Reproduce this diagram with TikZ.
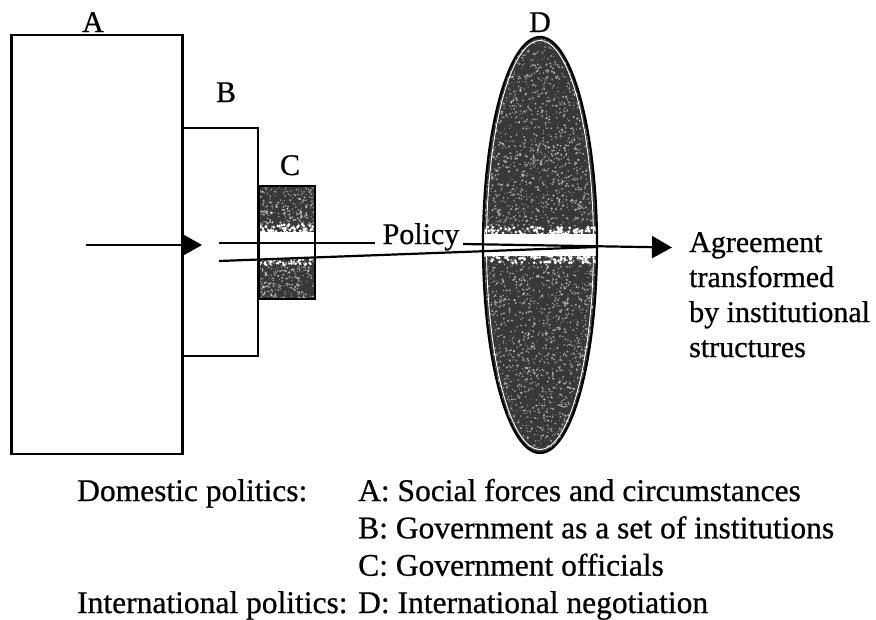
\documentclass[tikz,border=0pt]{standalone}
\usepackage{fontspec}
\setmainfont{Liberation Serif}[FakeBold=0.7]
\usetikzlibrary{arrows.meta}
\begin{document}
\begin{tikzpicture}[x=1pt,y=-1pt,
  frameline/.style={draw=black, line width=2.2pt},
  box/.style={frameline, fill=white, inner sep=0pt, outer sep=0pt},
  letter/.style={font=\fontsize{30}{34}\selectfont, anchor=base, inner sep=0pt},
  legend/.style={font=\fontsize{31.5}{37}\selectfont, anchor=base west, inner sep=0pt},
  flow/.style={line width=2.2pt},
  tip/.style={-{Triangle[length=20pt,width=22pt]}},
  speck/.style={fill=white, opacity=.5},
  ground/.style={fill=black!78}]
\useasboundingbox (0,0) rectangle (876,619);

% domestic level: society, government, officials
\node[box, minimum width=171pt, minimum height=419pt] (A) at (97,244.5) {};
\node[box, minimum width=75.5pt, minimum height=228pt] (B) at (220.25,242) {};
\node[ground, inner sep=0pt, outer sep=0pt, minimum width=56pt, minimum height=113pt] (C) at (287,242.5) {};

\pgfmathsetseed{4711}
\begin{scope}
  \clip (C.south west) rectangle (C.north east);
  \foreach \k in {1,...,750}{
    \pgfmathsetmacro\sx{259+56*rnd}
    \pgfmathsetmacro\sy{186+113*rnd}
    \pgfmathsetmacro\sr{0.35+0.9*rnd}
    \fill[speck] (\sx,\sy) circle[radius=\sr];
  }
  \fill[white] (259,232) rectangle (315,259);
  \foreach \k in {1,...,50}{
    \pgfmathsetmacro\sx{259+56*rnd}
    \pgfmathsetmacro\sy{224+9*rnd}
    \fill[white] (\sx,\sy) circle[radius=1.5];
    \pgfmathsetmacro\sx{259+56*rnd}
    \pgfmathsetmacro\sy{258+7*rnd}
    \fill[white] (\sx,\sy) circle[radius=1.3];
  }
\end{scope}
\draw[frameline] (C.south west) rectangle (C.north east);

% international level: negotiation
\coordinate (D) at (540,245);
\begin{scope}
  \clip (D) ellipse [x radius=57, y radius=208];
  \fill[ground] (D) ellipse [x radius=57, y radius=208];
  \foreach \k in {1,...,3800}{
    \pgfmathsetmacro\sx{483+114*rnd}
    \pgfmathsetmacro\sy{37+416*rnd}
    \pgfmathsetmacro\sr{0.35+0.9*rnd}
    \fill[speck] (\sx,\sy) circle[radius=\sr];
  }
  \fill[white] (483,234) rectangle (597,256);
  \foreach \k in {1,...,90}{
    \pgfmathsetmacro\sx{483+114*rnd}
    \pgfmathsetmacro\sy{227+8*rnd}
    \fill[white] (\sx,\sy) circle[radius=1.5];
    \pgfmathsetmacro\sx{483+114*rnd}
    \pgfmathsetmacro\sy{255+8*rnd}
    \fill[white] (\sx,\sy) circle[radius=1.5];
  }
  \draw[white, line width=0.9pt] (D) ellipse [x radius=53.5, y radius=204.5];
\end{scope}
\draw[frameline] (D) ellipse [x radius=57, y radius=208];

% labels of the four levels
\node[letter] (labA) at (93,32) {A};
\node[letter] (labB) at (226,102) {B};
\node[letter] (labC) at (290,175) {C};
\node[letter] (labD) at (540,32) {D};

% flow of policy
\coordinate (in0) at (86,245);
\coordinate (in1) at (202,245);
\draw[flow, tip] (in0) -- (in1);

\node[letter] (policy) at (421,244) {Policy};
\coordinate (u0) at (219,243);
\coordinate (u1) at (375,243);
\coordinate (u2) at (463,244);
\coordinate (out) at (672,247.5);
\coordinate (l0) at (219,261);
\coordinate (l1) at (597,247);
\draw[flow] (u0) -- (u1);
\draw[flow] (l0) -- (l1);
\draw[flow, tip] (u2) -- (out);

% the last line's baseline carries the node
\node[font=\fontsize{30}{35}\selectfont, align=left, anchor=base west, inner sep=0pt] (result) at (689,357)
  {Agreement\\transformed\\by institutional\\structures};

% legend
\node[legend] (dom) at (77,501) {Domestic politics:};
\node[legend] (int) at (77,613) {International politics:};
\node[legend] (keyA) at (358,501) {A: Social forces and circumstances};
\node[legend] (keyB) at (358,538.3) {B: Government as a set of institutions};
\node[legend] (keyC) at (358,575.7) {C: Government officials};
\node[legend] (keyD) at (358,613) {D: International negotiation};
\end{tikzpicture}
\end{document}
